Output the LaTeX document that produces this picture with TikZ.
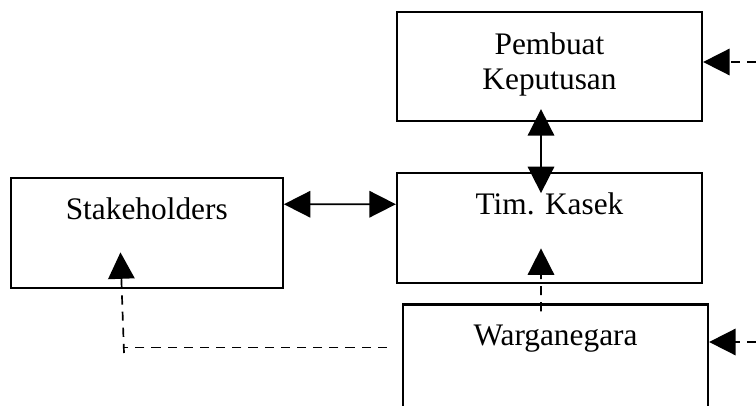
\documentclass[tikz,border=0pt]{standalone}
\usepackage{fontspec}
\setmainfont{Liberation Serif}
\usepackage{tikz}
\usetikzlibrary{arrows.meta, positioning}

\tikzset{
  box/.style={draw, line width=1.6pt, inner sep=0pt, align=center,
    minimum width=7.625cm, font=\fontsize{22.3}{24.9}\selectfont},
  link/.style={line width=1.2pt, {Triangle[length=0.66cm,width=0.66cm]}-{Triangle[length=0.66cm,width=0.66cm]}},
  linkto/.style={line width=1.2pt, -{Triangle[length=0.66cm,width=0.66cm]}},
  dashline/.style={line width=1.2pt, dash pattern=on 6.5pt off 5pt}
}

\begin{document}
\begin{tikzpicture}
  \clip (0,0) rectangle (18.9,10.125);

  % boxes
  \node[box, text height=1.95cm, text depth=0.775cm] (pk) at (13.7375,8.4625)
    {Pembuat\\Keputusan};
  \node[box, text height=1.025cm, text depth=1.725cm, below=1.25cm of pk] (tk)
    {Tim. Kasek};
  \node[box, text height=1.025cm, text depth=1.725cm, minimum width=6.8cm,
    left=2.8cm of tk, yshift=-0.125cm] (stk) {Stakeholders};
  \node[box, text height=1.025cm, text depth=1.975cm, below=0.475cm of tk,
    xshift=0.15cm] (wg) {Warganegara};

  % free ends
  \coordinate (pkin) at (18.9,8.575);
  \coordinate (wgin) at (18.9,1.575);
  \coordinate (sbot) at (3.1,1.3);

  % connectors
  \draw[link] ([yshift=0.725cm]stk.east) -- ([yshift=0.6cm]tk.west);
  \draw[link, shorten <=-0.325cm, shorten >=-0.525cm]
    ([xshift=-0.2125cm]pk.south) -- ([xshift=-0.2125cm]tk.north);
  \draw[linkto, dashline, shorten <=-0.2cm, shorten >=-0.9cm]
    ([xshift=-0.3625cm]wg.north) -- ([xshift=-0.2125cm]tk.south);
  \draw[linkto, dashline] (pkin) -- (pk.east |- pkin);
  \draw[linkto, dashline] (wgin) -- (wg.east |- wgin);
  \draw[dashline] ([xshift=-0.375cm,yshift=0.425cm]wg.west) -- ++(-6.6,0);
  \draw[linkto, dashline, shorten >=-0.925cm] (sbot) -- ([xshift=-0.625cm]stk.south);
\end{tikzpicture}
\end{document}
